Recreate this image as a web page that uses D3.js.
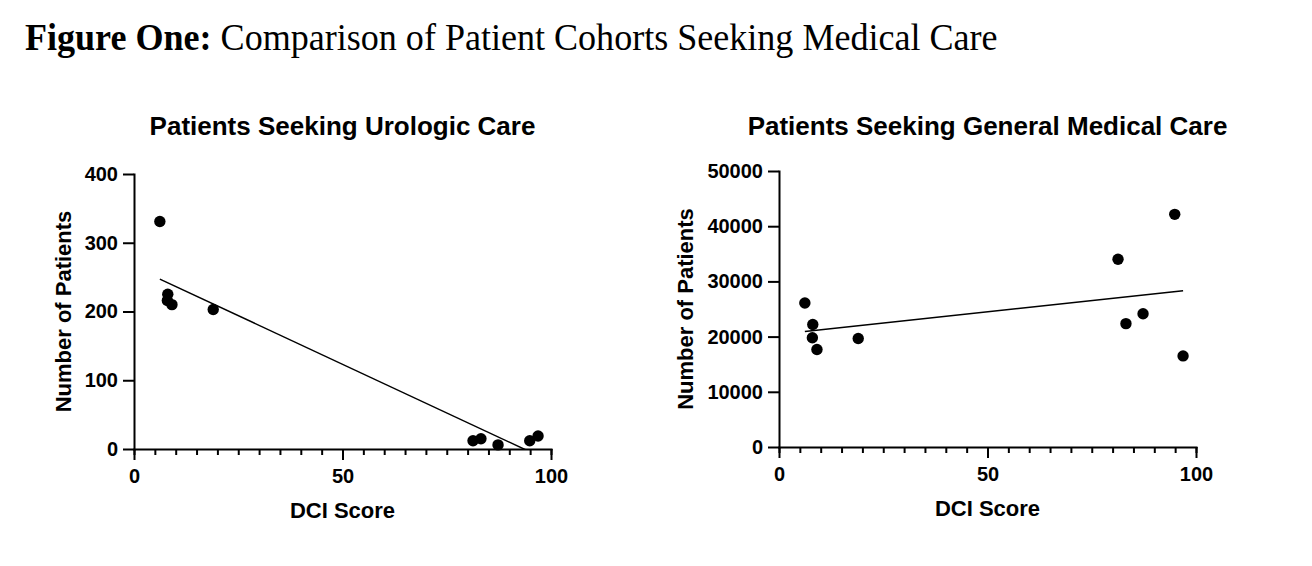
<!DOCTYPE html>
<html>
<head>
<meta charset="utf-8">
<script src="https://cdn.jsdelivr.net/npm/d3@7"></script>
<style>
  html, body { margin: 0; padding: 0; background: #fff; }
  svg { display: block; }
</style>
</head>
<body>
<svg id="chart" width="1312" height="566"></svg>
<script>
// ---------- data ----------
const figureLabel = "Figure One:";
const figureTitle = " Comparison of Patient Cohorts Seeking Medical Care";

const dciScores = [6.2, 8.1, 8.0, 9.1, 19.0, 81.3, 83.2, 87.3, 94.9, 96.9];
const urologicPatients = [331, 225, 216, 210, 203, 12, 15, 6, 12, 19];
const generalPatients = [26100, 22200, 19800, 17650, 19650, 34000, 22350, 24150, 42150, 16500];

const xTicks = [0, 50, 100];
const xMinorTicks = d3.range(0, 101, 5);
const urologicYTicks = [0, 100, 200, 300, 400];
const generalYTicks = [0, 10000, 20000, 30000, 40000, 50000];

const panels = [
  { title: "Patients Seeking Urologic Care", values: urologicPatients, yMax: 400, yTicks: urologicYTicks,
    left: 134, right: 551, top: 174, bottom: 449 },
  { title: "Patients Seeking General Medical Care", values: generalPatients, yMax: 50000, yTicks: generalYTicks,
    left: 779, right: 1196, top: 171, bottom: 447 }
];

const FONT = "'Liberation Sans', Arial, Helvetica, sans-serif";
const svg = d3.select("#chart");

// ---------- figure title ----------
const ft = svg.append("text")
  .attr("transform", "translate(25,50) scale(0.967,1)")
  .attr("font-family", "'Liberation Serif', 'Times New Roman', serif")
  .attr("font-size", 37.3)
  .attr("fill", "#000");
ft.append("tspan").attr("font-weight", "bold").text(figureLabel);
ft.append("tspan").attr("font-weight", "normal").text(figureTitle);

// ---------- linear regression ----------
function linreg(xs, ys) {
  const mx = d3.mean(xs), my = d3.mean(ys);
  let sxy = 0, sxx = 0;
  xs.forEach((x, i) => { sxy += (x - mx) * (ys[i] - my); sxx += (x - mx) * (x - mx); });
  const m = sxy / sxx;
  return { m, b: my - m * mx };
}

panels.forEach((p, idx) => {
  const w = p.right - p.left, h = p.bottom - p.top;
  const g = svg.append("g").attr("transform", `translate(${p.left},${p.top})`);
  const x = d3.scaleLinear().domain([0, 100]).range([0, w]);
  const y = d3.scaleLinear().domain([0, p.yMax]).range([h, 0]);

  // title
  g.append("text")
    .attr("x", w / 2).attr("y", 135 - p.top)
    .attr("text-anchor", "middle")
    .attr("font-family", FONT).attr("font-weight", "bold").attr("font-size", 26)
    .attr("fill", "#000")
    .text(p.title);

  // minor x ticks
  const xMinor = g.append("g").attr("transform", `translate(0,${h})`)
    .call(d3.axisBottom(x).tickValues(xMinorTicks).tickSize(6).tickSizeOuter(0).tickFormat(""));
  xMinor.select(".domain").remove();

  // major x axis
  const xAx = g.append("g").attr("transform", `translate(0,${h})`)
    .call(d3.axisBottom(x).tickValues(xTicks).tickSize(11).tickSizeOuter(0).tickPadding(9).tickFormat(d3.format("d")));

  // y axis
  const yAx = g.append("g")
    .call(d3.axisLeft(y).tickValues(p.yTicks).tickSize(11).tickSizeOuter(0).tickPadding(5).tickFormat(d3.format("d")));

  [xMinor, xAx, yAx].forEach(a => {
    a.selectAll("line").attr("stroke", "#000").attr("stroke-width", 2);
    a.selectAll(".domain").attr("stroke", "#000").attr("stroke-width", 2).attr("stroke-linecap", "square");
    a.selectAll("text").attr("font-family", FONT).attr("font-weight", "bold")
      .attr("font-size", 20).attr("fill", "#000");
  });
  xAx.selectAll("text").attr("dy", "0.71em");

  // axis titles
  g.append("text")
    .attr("x", w / 2).attr("y", h + 69)
    .attr("text-anchor", "middle")
    .attr("font-family", FONT).attr("font-weight", "bold").attr("font-size", 22)
    .attr("fill", "#000")
    .text("DCI Score");

  g.append("text")
    .attr("transform", `translate(${(idx === 0 ? 71 : 693) - p.left},${h / 2}) rotate(-90)`)
    .attr("text-anchor", "middle")
    .attr("font-family", FONT).attr("font-weight", "bold").attr("font-size", 22)
    .attr("fill", "#000")
    .text("Number of Patients");

  // regression line (clipped to plotting area)
  const clipId = "clip" + idx;
  g.append("clipPath").attr("id", clipId)
    .append("rect").attr("x", 0).attr("y", 0).attr("width", w).attr("height", h);
  const r = linreg(dciScores, p.values);
  const xr = d3.extent(dciScores);
  g.append("line")
    .attr("clip-path", `url(#${clipId})`)
    .attr("x1", x(xr[0])).attr("y1", y(r.m * xr[0] + r.b))
    .attr("x2", x(xr[1])).attr("y2", y(r.m * xr[1] + r.b))
    .attr("stroke", "#000").attr("stroke-width", 1.5);

  // points
  g.selectAll("circle.pt").data(dciScores.map((d, i) => [d, p.values[i]]))
    .join("circle").attr("class", "pt")
    .attr("cx", d => x(d[0])).attr("cy", d => y(d[1]))
    .attr("r", 5.7).attr("fill", "#000");
});
</script>
</body>
</html>
